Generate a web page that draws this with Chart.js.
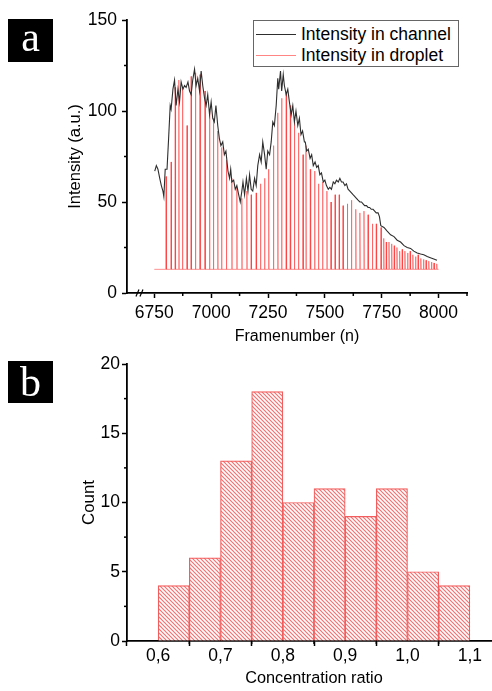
<!DOCTYPE html>
<html>
<head>
<meta charset="utf-8">
<script src="https://cdn.jsdelivr.net/npm/chart.js@4.4.1/dist/chart.umd.min.js"></script>
<style>
  html, body { margin:0; padding:0; background:#fff; }
  body { width:492px; height:691px; overflow:hidden; position:relative; }
  .wrap { position:absolute; left:0; }
  .panel { position:absolute; width:45px; height:43px; background:#000; color:#fff;
           font-family:'Liberation Serif','DejaVu Serif',serif; font-size:42px; text-align:center; }
  #legend { position:absolute; left:253px; top:20px; width:204px; height:45px; border:1px solid #666;
            background:#fff; font-family:'Liberation Sans',Arial,sans-serif; font-size:17.5px; color:#000; }
  #legend .row { position:absolute; left:0; height:21px; line-height:21px; white-space:nowrap; }
  #legend .sw { position:absolute; left:2px; top:10px; width:40px; height:1px; }
  #legend .tx { position:absolute; left:47px; top:0; }
</style>
</head>
<body>
<div class="wrap" style="top:0;width:492px;height:350px"><canvas id="c1" width="492" height="350" style="width:492px;height:350px"></canvas></div>
<div class="wrap" style="top:350px;width:501px;height:341px"><canvas id="c2" width="501" height="341" style="width:501px;height:341px"></canvas></div>
<div class="panel" style="left:8px;top:19px;line-height:36px">a</div>
<div class="panel" style="left:8px;top:361px;height:42px;line-height:42px">b</div>
<div id="legend"></div>
<script>
// ---------- Panel a data ----------
const channelFrames = [6752,6759,6766,6774,6781,6788,6792,6798,6806,6813,6820,6824,6832,6839,6846,6854,6861,6868,6876,6883,6890,6898,6905,6912,6919,6927,6934,6941,6949,6956,6963,6971,6978,6985,6993,7000,7007,7014,7021,7029,7036,7043,7051,7058,7065,7074,7081,7086,7091,7099,7106,7113,7121,7128,7135,7140,7147,7155,7162,7169,7176,7183,7191,7198,7205,7213,7220,7227,7235,7242,7249,7257,7264,7271,7278,7286,7293,7297,7305,7310,7317,7322,7330,7337,7344,7352,7359,7366,7373,7381,7388,7395,7402,7410,7414,7420,7427,7435,7442,7449,7457,7464,7471,7478,7485,7493,7500,7507,7515,7522,7529,7537,7544,7551,7559,7566,7573,7580,7588,7595,7602,7610,7617,7624,7632,7639,7646,7654,7661,7668,7675,7683,7690,7697,7704,7712,7719,7726,7734,7740,7746,7760,7774,7789,7804,7818,7833,7848,7862,7877,7891,7906,7921,7935,7950,7964,7979,7993];
const channelValues = [67,70,68,63,59,56,53,68,68,85,103,101,112,117,103,112,105,116,112,114,113,116,111,109,117,123,114,118,111,122,114,107,103,109,98,105,96,94,103,92,85,81,83,76,78,67,63,68,61,62,57,59,54,50,56,61,54,63,56,65,57,56,63,59,70,76,72,83,76,68,78,76,83,94,92,103,118,112,122,111,120,114,109,112,105,98,103,94,100,92,96,87,89,83,83,78,79,74,76,70,72,69,70,65,66,61,62,59,57,58,57,61,60,62,61,63,61,61,59,60,57,56,55,54,53,52,51,50,50,49,48,48,47,47,46,46,45,44,44,42,37,36,34,32,31,29,28,26,25,24.5,23,22,21.4,21,20,19.4,18.7,18];

const dropletFrames = [6802,6824,6842,6858,6874,6894,6912,6931,6951,6973,6993,7010,7029,7046,7067,7091,7113,7135,7157,7176,7198,7217,7235,7253,7274,7293,7310,7330,7348,7366,7384,7404,7417,7436,7455,7472,7490,7509,7527,7545,7563,7580,7599,7617,7636,7654,7672,7690,7709,7726,7747,7759,7770,7782,7794,7805,7817,7829,7840,7852,7864,7875,7887,7899,7910,7922,7934,7945,7957,7969,7980,7992];
const dropletPeaks = [64,72,113,117,113,92,119,121,120,111,100,96,89,80,73,63,58,52,56,54,55,60,63,68,81,99,107,110,103,94,88,76,81,68,67,60,61,56,50,54,54,48,49,51,46,44,45,43,38,38,36,30,28,28,27,26,25,23,24,23,22,23,21,20,21,19,18.5,18,17.5,17,16.5,16];
const dropletBaseline = 13;
const dropletStart = 6750, dropletEnd = 8000;

const topXTicks = [6750,7000,7250,7500,7750,8000];
const topXMinor = [6875,7125,7375,7625,7875,8125];
const topYTicks = [0,50,100,150];
const topYMinor = [25,75,125];

// ---------- Panel b data ----------
const binCenters = [0.625,0.675,0.725,0.775,0.825,0.875,0.925,0.975,1.025,1.075];
const binCounts  = [4,6,13,18,10,11,9,11,5,4];
const botXTicks = [0.6,0.7,0.8,0.9,1.0,1.1];
const botXMinor = [0.65,0.75,0.85,0.95,1.05];
const botYTicks = [0,5,10,15,20];
const botYMinor = [2.5,7.5,12.5,17.5];

Chart.defaults.font.family = "'Liberation Sans', Arial, sans-serif";
Chart.defaults.color = '#000';

const channelPoints = channelFrames.map((f,i) => ({x:f, y:channelValues[i]}));
const dropletPoints = [{x:dropletStart, y:dropletBaseline}];
dropletFrames.forEach((f,i) => {
  dropletPoints.push({x:f-1.5, y:dropletBaseline}, {x:f, y:dropletPeaks[i]}, {x:f+1.5, y:dropletBaseline});
});
dropletPoints.push({x:dropletEnd, y:dropletBaseline});

const minorTicks = {
  id:'minorTicks',
  afterDraw(chart, args, opts) {
    const ctx = chart.ctx;
    ctx.save();
    ctx.strokeStyle = '#000';
    ctx.lineWidth = 1.5;
    for (const id of Object.keys(opts.axes || {})) {
      const s = chart.scales[id];
      for (const v of opts.axes[id]) {
        ctx.beginPath();
        if (s.isHorizontal()) {
          const x = s.getPixelForValue(v);
          ctx.moveTo(x, s.top); ctx.lineTo(x, s.top + 3);
        } else {
          const y = s.getPixelForValue(v);
          ctx.moveTo(s.right, y); ctx.lineTo(s.right - 3, y);
        }
        ctx.stroke();
      }
    }
    if (opts.breakAt !== undefined) {
      const s = chart.scales.x;
      const x = s.getPixelForValue(opts.breakAt);
      const y = s.top;
      ctx.lineWidth = 1.2;
      [-2.5, 1.5].forEach(dx => {
        ctx.beginPath();
        ctx.moveTo(x + dx - 1.5, y + 3.5);
        ctx.lineTo(x + dx + 1.5, y - 3.5);
        ctx.stroke();
      });
    }
    ctx.restore();
  }
};

function axisCommon(ticksArr, fmt, tickPad, fitFn) {
  return {
    afterBuildTicks: s => { s.ticks = ticksArr.map(v => ({value:v})); },
    afterFit: fitFn,
    ticks: { font:{size:17.5}, color:'#000', padding:tickPad, autoSkip:false, maxRotation:0, callback: fmt },
    grid: { drawOnChartArea:false, drawTicks:true, tickLength:5, tickColor:'#000', tickWidth:1.5 },
    border: { display:true, color:'#000', width:1.8 }
  };
}

const chartA = new Chart(document.getElementById('c1'), {
  type:'line',
  data: { datasets: [
    { label:'Intensity in channel', data:channelPoints, borderColor:'#2e2e2e', borderWidth:1.1, pointRadius:0, tension:0 },
    { label:'Intensity in droplet', data:dropletPoints, borderColor:'rgba(255,50,50,0.6)', borderWidth:0.9, pointRadius:0, tension:0 }
  ]},
  options: {
    responsive:false, animation:false, events:[],
    layout:{ padding:{ left:0, top:20, right:25, bottom:0 } },
    plugins:{ legend:{display:false}, tooltip:{enabled:false},
      minorTicks:{ axes:{ x:topXMinor, y:topYMinor }, breakAt:6687 } },
    scales:{
      x: Object.assign(axisCommon(topXTicks, v => String(v), 5, s => { s.height = 57; }), {
        type:'linear', min:6630, max:8125,
        title:{ display:true, text:'Framenumber (n)', font:{size:16}, color:'#000', padding:{top:0, bottom:3.4} }
      }),
      y: Object.assign(axisCommon(topYTicks, v => String(v), 5, s => { s.width = 127; }), {
        type:'linear', min:0, max:150,
        title:{ display:true, text:'Intensity (a.u.)', font:{size:16.5}, color:'#000', padding:{top:66, bottom:0} }
      })
    }
  },
  plugins:[minorTicks]
});

// HTML legend built from dataset labels/colours
const leg = document.getElementById('legend');
chartA.data.datasets.forEach((ds, i) => {
  const row = document.createElement('div');
  row.className = 'row';
  row.style.top = (2.5 + i * 21) + 'px';
  row.innerHTML = '<span class="sw" style="background:' + ds.borderColor + '"></span><span class="tx">' + ds.label + '</span>';
  leg.appendChild(row);
});

function hatchPattern(ctx) {
  const s = 4;
  const c = document.createElement('canvas');
  c.width = s; c.height = s;
  const g = c.getContext('2d');
  g.fillStyle = '#fff'; g.fillRect(0,0,s,s);
  g.strokeStyle = '#f37272'; g.lineWidth = 1.2;
  g.beginPath();
  g.moveTo(-1,-1); g.lineTo(s+1,s+1);
  g.moveTo(-1,s-1); g.lineTo(1,s+1);
  g.moveTo(s-1,-1); g.lineTo(s+1,1);
  g.stroke();
  return ctx.createPattern(c, 'repeat');
}

const c2 = document.getElementById('c2');
const pattern = hatchPattern(c2.getContext('2d'));
new Chart(c2, {
  type:'bar',
  data: { datasets: [{
    label:'Count',
    data: binCenters.map((c,i) => ({x:c, y:binCounts[i]})),
    backgroundColor: pattern, borderColor:'#f45d5d', borderWidth:1.2,
    barPercentage:1, categoryPercentage:1, borderSkipped:'bottom'
  }]},
  options: {
    responsive:false, animation:false, events:[],
    layout:{ padding:{ left:0, top:14, right:0, bottom:0 } },
    plugins:{ legend:{display:false}, tooltip:{enabled:false},
      minorTicks:{ axes:{ x:botXMinor, y:botYMinor } } },
    scales:{
      x: Object.assign(axisCommon(botXTicks, v => v.toFixed(1).replace('.', ','), 0, s => { s.height = 50; }), {
        type:'linear', min:0.55, max:1.15, offset:false,
        title:{ display:true, text:'Concentration ratio', font:{size:16.3}, color:'#000', padding:{top:0, bottom:3.2} }
      }),
      y: Object.assign(axisCommon(botYTicks, v => String(v), 2, s => { s.width = 127; }), {
        type:'linear', min:0, max:20,
        title:{ display:true, text:'Count', font:{size:16.8}, color:'#000', padding:{top:79, bottom:0} }
      })
    }
  },
  plugins:[minorTicks]
});
</script>
</body>
</html>
